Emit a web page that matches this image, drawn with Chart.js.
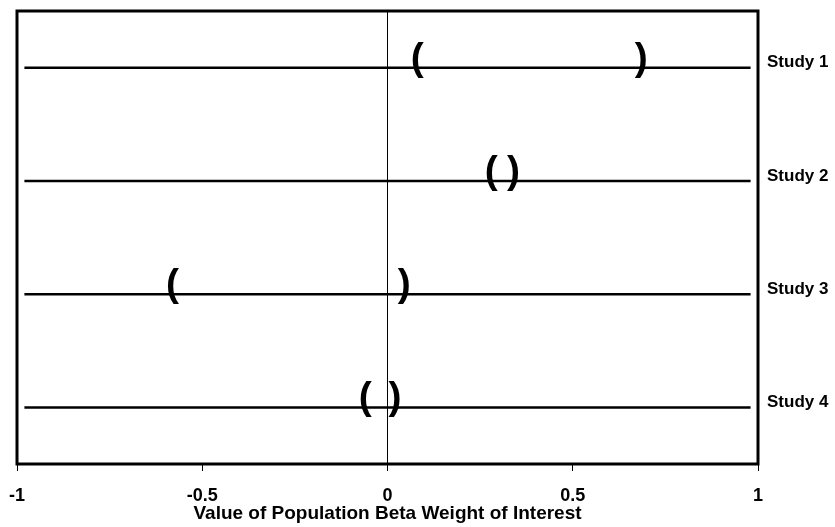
<!DOCTYPE html>
<html>
<head>
<meta charset="utf-8">
<script src="https://cdn.jsdelivr.net/npm/chart.js@4"></script>
<style>
  html, body { margin: 0; padding: 0; background: #fff; }
  #wrap { width: 835px; height: 527px; }
</style>
</head>
<body>
<div id="wrap"><canvas id="chart"></canvas></div>
<script>
const studies = ['Study 1', 'Study 2', 'Study 3', 'Study 4'];
const lowerLimits = [0.08, 0.28, -0.58, -0.06];
const upperLimits = [0.685, 0.34, 0.045, 0.02];
const lineRange = [-0.98, 0.98];
const xTicks = [-1, -0.5, 0, 0.5, 1];

const FONT = "'Liberation Sans', Arial, sans-serif";

// one horizontal line per study
const lineSets = studies.map(s => ({
    data: lineRange.map(x => ({ x: x, y: s })),
    showLine: true,
    borderColor: '#000',
    borderWidth: 2.5,
    pointRadius: 0
}));

// box round the plot area, the ( ) marks and the study names on the right
const bracketPlugin = {
    id: 'brackets',
    afterDatasetsDraw(chart) {
        const { ctx, chartArea, scales } = chart;
        ctx.save();
        ctx.fillStyle = '#000';
        ctx.font = 'bold 39px ' + FONT;
        ctx.textAlign = 'center';
        ctx.textBaseline = 'alphabetic';
        studies.forEach((s, i) => {
            const y = scales.y.getPixelForValue(i) + 2;
            ctx.fillText('(', scales.x.getPixelForValue(lowerLimits[i]), y);
            ctx.fillText(')', scales.x.getPixelForValue(upperLimits[i]), y);
        });
        ctx.font = 'bold 17px ' + FONT;
        ctx.textAlign = 'left';
        ctx.textBaseline = 'middle';
        studies.forEach((s, i) => {
            ctx.fillText(s, chartArea.right + 9, scales.y.getPixelForValue(i) - 5);
        });
        ctx.lineWidth = 3;
        ctx.strokeStyle = '#000';
        ctx.strokeRect(chartArea.left, chartArea.top, chartArea.right - chartArea.left, chartArea.bottom - chartArea.top);
        ctx.restore();
    }
};

new Chart(document.getElementById('chart'), {
    type: 'scatter',
    data: { datasets: lineSets },
    options: {
        responsive: true,
        maintainAspectRatio: false,
        animation: false,
        layout: { padding: { left: 17, top: 11, right: 77, bottom: 4 } },
        plugins: {
            legend: { display: false },
            tooltip: { enabled: false }
        },
        scales: {
            x: {
                type: 'linear',
                min: -1,
                max: 1,
                afterBuildTicks: axis => { axis.ticks = xTicks.map(v => ({ value: v })); },
                grid: {
                    color: c => (c.tick && c.tick.value === 0) ? '#000' : 'rgba(0,0,0,0)',
                    tickColor: '#000',
                    lineWidth: 1,
                    tickLength: 7
                },
                border: { display: false },
                ticks: {
                    color: '#000',
                    padding: 8,
                    maxRotation: 0,
                    callback: v => String(v),
                    font: { family: FONT, size: 18, weight: 'bold', lineHeight: '34px' }
                },
                title: {
                    display: true,
                    text: 'Value of Population Beta Weight of Interest',
                    color: '#000',
                    padding: { top: -17, bottom: 0 },
                    font: { family: FONT, size: 19, weight: 'bold', lineHeight: 1 }
                }
            },
            y: {
                type: 'category',
                labels: studies,
                offset: true,
                display: false
            }
        }
    },
    plugins: [bracketPlugin]
});
</script>
</body>
</html>
